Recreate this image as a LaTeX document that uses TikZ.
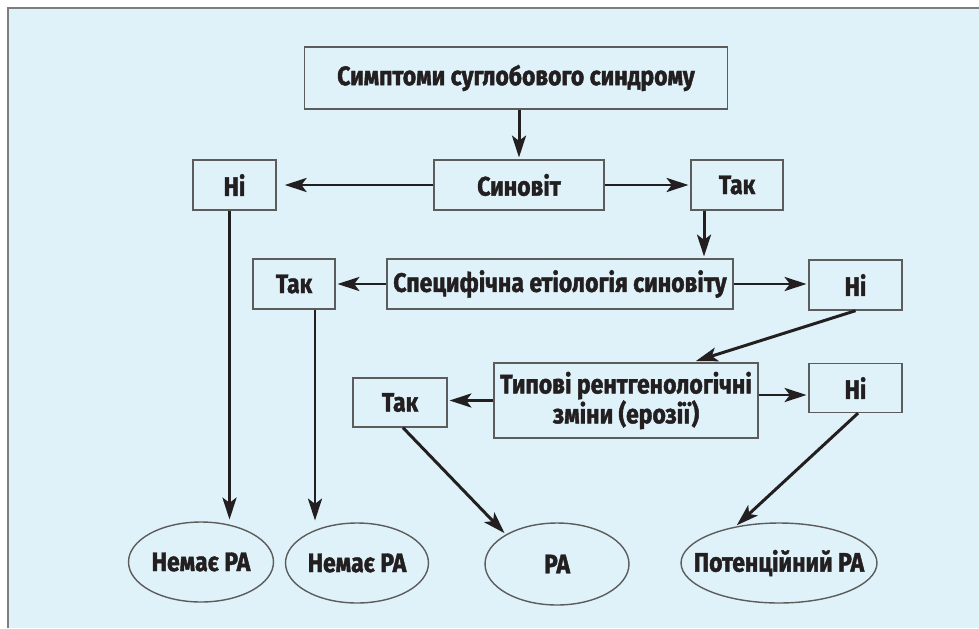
\documentclass[tikz,border=0pt]{standalone}
\usepackage{fontspec}
\setmainfont{Fira Sans}[FakeStretch=0.86,BoldFeatures={FakeBold=1.6}]
\usetikzlibrary{arrows.meta,shapes.geometric,positioning}
\definecolor{panel}{HTML}{DFF2F9}
\definecolor{ink}{HTML}{231F20}
\definecolor{rim}{HTML}{5C5C5C}
\newcommand{\ovaltext}[1]{\makebox[0pt]{#1}}

\begin{document}
\begin{tikzpicture}[x=0.02cm,y=-0.02cm,
    font=\fontsize{15.2}{17}\selectfont\bfseries,text=ink,
    box/.style={draw=rim,line width=0.8pt,inner sep=0pt,align=center,minimum height=1cm},
    oval/.style={ellipse,draw=rim,line width=0.8pt,inner sep=0pt,minimum height=1.6cm},
    arr/.style={draw=ink,line width=1.7pt,-{Stealth[length=12.5pt,width=8pt,inset=3pt]},shorten >=1pt}]
    \useasboundingbox (0,0) rectangle (979,628);
    \fill[panel] (8,8) rectangle (979,628);
    \draw[rim!80,line width=1pt] (8,628) -- (8,8) -- (979,8);

    \node[box,minimum width=8.46cm,minimum height=1.24cm] (symptoms) at (516,78) {Симптоми суглобового синдрому};
    \node[box,minimum width=3.4cm] (synovit) at (519,185) {Синовіт};
    \node[box,minimum width=1.66cm] (ni1) at (234.5,185) {Ні};
    \node[box,minimum width=1.84cm] (tak1) at (737,185) {Так};
    \node[box,minimum width=6.92cm] (spec) at (560,284) {Специфічна етіологія синовіту};
    \node[box,minimum width=1.64cm] (tak2) at (294,284) {Так};
    \node[box,minimum width=1.86cm] (ni2) at (855.5,285) {Ні};
    \node[box,minimum width=5.28cm,minimum height=1.5cm] (xray) at (626,400.5) {Типові рентгенологічні\\зміни (ерозії)};
    \node[box,minimum width=1.88cm,minimum height=0.98cm] (tak3) at (400,402.5) {Так};
    \node[box,minimum width=1.86cm,minimum height=0.98cm] (ni3) at (855.5,388) {Ні};

    \node[oval,minimum width=2.9cm] (noRA1) at (201,562) {\ovaltext{Немає РА}};
    \node[oval,minimum width=2.86cm] (noRA2) at (357,563) {\ovaltext{Немає РА}};
    \node[oval,minimum width=2.88cm,minimum height=1.64cm] (RA) at (557,564) {\ovaltext{РА}};
    \node[oval,minimum width=3.92cm] (potRA) at (779,563) {\ovaltext{Потенційний РА}};

    \draw[arr] (symptoms.south -| synovit.north) -- (synovit.north);
    \draw[arr,shorten >=0.16cm] (synovit.west) -- (ni1.east);
    \draw[arr] (synovit.east) -- (tak1.west);
    \draw[arr] ([xshift=-0.66cm]tak1.south) -- ([xshift=-0.66cm]tak1.south |- spec.north);
    \draw[arr] (spec.west) -- (tak2.east);
    \draw[arr] (spec.east) -- (spec.east -| ni2.west);
    \draw[arr,shorten >=0.08cm] (ni2.south) -- ([xshift=1.32cm]xray.north);
    \draw[arr] (xray.west) -- (xray.west -| tak3.east);
    \draw[arr] ([yshift=0.11cm]xray.east) -- ([yshift=0.11cm]xray.east -| ni3.west);
    \draw[arr] ([xshift=-0.1cm]ni1.south) -- ([xshift=-0.1cm]ni1.south |- noRA1.north);
    \draw[arr] ([xshift=0.42cm]tak2.south) -- ([xshift=0.42cm]tak2.south |- noRA2.north);
    \draw[arr] ([xshift=0.06cm]tak3.south) -- (RA.150);
    \draw[arr] ([xshift=0.05cm]ni3.south) -- (potRA.140);
\end{tikzpicture}
\end{document}
